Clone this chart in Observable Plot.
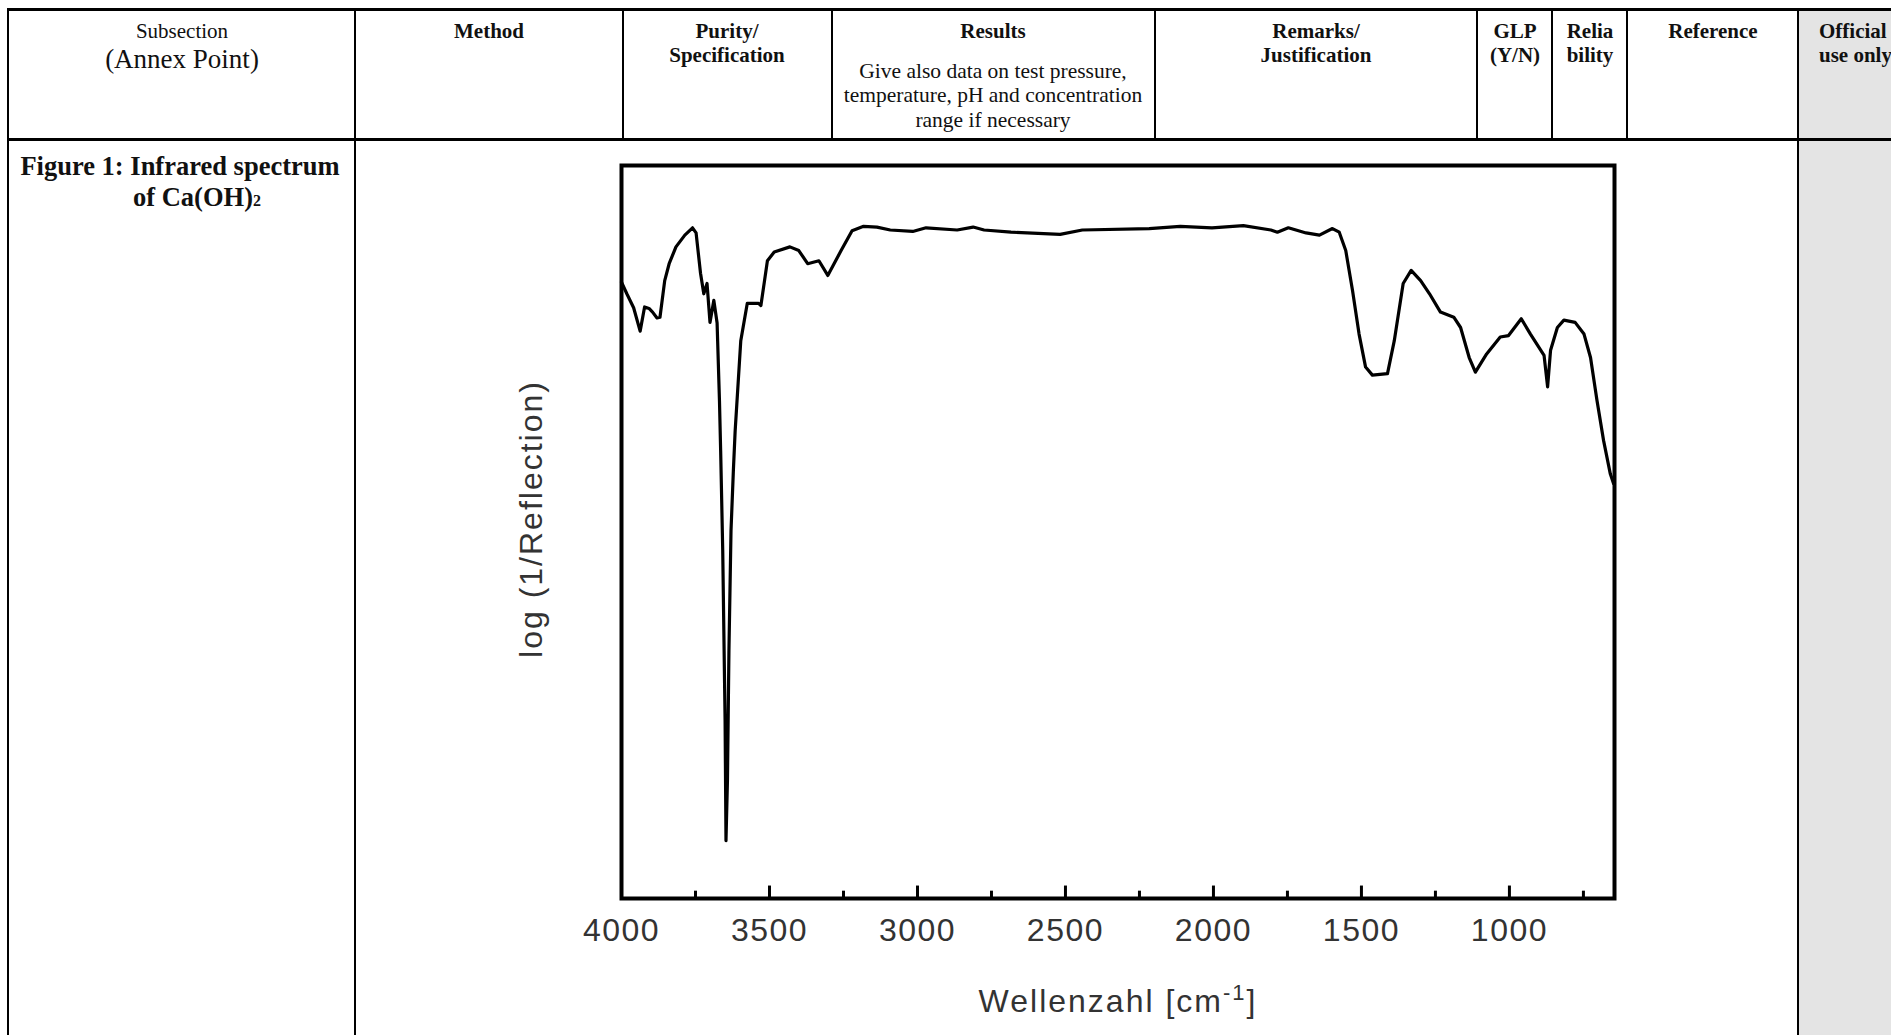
<!DOCTYPE html>
<html>
<head>
<meta charset="utf-8">
<script src="https://cdn.jsdelivr.net/npm/d3@7"></script>
<script src="https://cdn.jsdelivr.net/npm/@observablehq/plot@0.6"></script>
<style>
  html, body { margin: 0; padding: 0; background: #fff; }
  #page { position: relative; width: 1891px; height: 1035px; overflow: hidden; background: #fff; }
  .hl { position: absolute; background: #000; }
  .t { position: absolute; font-family: "Liberation Serif", "Times New Roman", serif; color: #111; white-space: nowrap; line-height: 1; }
  .c { transform: translate(-50%, -50%); }
  .l { transform: translate(0, -50%); }
  .b { font-weight: bold; }
  #plot { position: absolute; left: 360px; top: 145px; }
  #plot svg .ls text { letter-spacing: 2px; }
  #plot svg .ls1 text { letter-spacing: 1.5px; }
</style>
</head>
<body>
<div id="page">
  <div style="position:absolute;left:1798px;top:9px;width:93px;height:1026px;background:#e4e4e4"></div>
  <div class="hl" style="left:7px;top:8px;width:1884px;height:3px"></div>
  <div class="hl" style="left:7px;top:138px;width:1884px;height:3px"></div>
  <div class="hl" style="left:7px;top:8px;width:2px;height:1027px"></div>
  <div class="hl" style="left:354px;top:8px;width:2px;height:1027px"></div>
  <div class="hl" style="left:622px;top:8px;width:2px;height:132px"></div>
  <div class="hl" style="left:831px;top:8px;width:2px;height:132px"></div>
  <div class="hl" style="left:1154px;top:8px;width:2px;height:132px"></div>
  <div class="hl" style="left:1476px;top:8px;width:2px;height:132px"></div>
  <div class="hl" style="left:1551px;top:8px;width:2px;height:132px"></div>
  <div class="hl" style="left:1626px;top:8px;width:2px;height:132px"></div>
  <div class="hl" style="left:1797px;top:8px;width:2px;height:1027px"></div>

  <div class="t c" style="left:182px;top:31px;font-size:21px">Subsection</div>
  <div class="t c" style="left:182px;top:59px;font-size:27px">(Annex Point)</div>
  <div class="t c b" style="left:489px;top:31px;font-size:21px">Method</div>
  <div class="t c b" style="left:727px;top:31px;font-size:21px">Purity/</div>
  <div class="t c b" style="left:727px;top:55px;font-size:21px">Specification</div>
  <div class="t c b" style="left:993px;top:31px;font-size:21px">Results</div>
  <div class="t c" style="left:993px;top:72px;font-size:21.5px">Give also data on test pressure,</div>
  <div class="t c" style="left:993px;top:96px;font-size:21.5px">temperature, pH and concentration</div>
  <div class="t c" style="left:993px;top:121px;font-size:21.5px">range if necessary</div>
  <div class="t c b" style="left:1316px;top:31px;font-size:21px">Remarks/</div>
  <div class="t c b" style="left:1316px;top:55px;font-size:21px">Justification</div>
  <div class="t c b" style="left:1515px;top:31px;font-size:21px">GLP</div>
  <div class="t c b" style="left:1515px;top:55px;font-size:21px">(Y/N)</div>
  <div class="t c b" style="left:1590px;top:31px;font-size:21px">Relia</div>
  <div class="t c b" style="left:1590px;top:55px;font-size:21px">bility</div>
  <div class="t c b" style="left:1713px;top:31px;font-size:21px">Reference</div>
  <div class="t l b" style="left:1819px;top:31px;font-size:21px">Official</div>
  <div class="t l b" style="left:1819px;top:55px;font-size:21px">use only</div>

  <div class="t c b" style="left:180px;top:166px;font-size:26.5px">Figure 1: Infrared spectrum</div>
  <div class="t c b" style="left:197px;top:197px;font-size:26.5px">of Ca(OH)<span style="font-size:16px">2</span></div>

  <div id="plot"></div>
</div>
<script>
// Wavenumber (cm-1) and log(1/Reflection) (relative units, 0-100)
const wavenumber = [4000, 3982, 3959, 3937, 3922, 3907, 3895, 3880, 3870, 3854, 3839, 3816, 3786, 3760, 3748, 3733, 3722, 3711, 3701, 3688, 3677, 3669, 3665, 3658, 3650, 3647, 3642, 3637, 3630, 3622, 3616, 3597, 3575, 3537, 3529, 3507, 3484, 3431, 3401, 3371, 3333, 3303, 3258, 3221, 3182, 3137, 3092, 3016, 2971, 2866, 2812, 2775, 2684, 2518, 2443, 2217, 2112, 2005, 1899, 1806, 1784, 1747, 1687, 1642, 1598, 1575, 1553, 1530, 1508, 1486, 1463, 1412, 1389, 1359, 1332, 1300, 1270, 1233, 1188, 1165, 1136, 1115, 1077, 1031, 1003, 960, 929, 883, 871, 861, 838, 816, 778, 748, 726, 704, 682, 659, 648];
const signal = [84.1, 82.5, 80.6, 77.4, 80.7, 80.5, 80.0, 79.2, 79.3, 84.3, 86.6, 88.9, 90.5, 91.5, 90.8, 85.3, 82.5, 83.9, 78.6, 81.6, 78.5, 67.9, 61.1, 47.5, 24.3, 7.9, 16.1, 33.8, 50.2, 58.4, 63.8, 76.1, 81.2, 81.2, 80.9, 87.0, 88.2, 88.9, 88.4, 86.6, 87.0, 85.0, 88.4, 91.1, 91.7, 91.6, 91.2, 91.0, 91.5, 91.2, 91.6, 91.2, 90.9, 90.6, 91.2, 91.4, 91.7, 91.5, 91.8, 91.2, 90.9, 91.5, 90.8, 90.5, 91.4, 90.9, 88.4, 82.9, 77.0, 72.5, 71.4, 71.6, 76.1, 83.9, 85.7, 84.3, 82.5, 80.0, 79.3, 77.9, 73.8, 71.8, 74.3, 76.6, 76.8, 79.1, 77.0, 74.1, 69.8, 74.8, 77.9, 78.9, 78.6, 77.0, 73.8, 67.9, 62.5, 57.9, 56.6];
const majorTicks = [4000, 3500, 3000, 2500, 2000, 1500, 1000];
const minorTicks = [3750, 3250, 2750, 2250, 1750, 1250, 750];
const tickLabels = ["4000", "3500", "3000", "2500", "2000", "1500", "1000"];
const xTitle = "Wellenzahl [cm-1]";
const yTitle = "log (1/Reflection)";

const spectrum = wavenumber.map((w, i) => ({wn: w, v: signal[i]}));
const sans = "Liberation Sans, Arial, Helvetica, sans-serif";

const chart = Plot.plot({
  width: 1300,
  height: 890,
  marginLeft: 261,
  marginRight: 46,
  marginTop: 20,
  marginBottom: 137,
  style: {background: "transparent", overflow: "visible"},
  x: {domain: [4000, 645], axis: null},
  y: {domain: [0, 100], axis: null},
  marks: [
    Plot.ruleX(majorTicks, {x: d => d, y1: 0, y2: 1.7, stroke: "black", strokeWidth: 3}),
    Plot.ruleX(minorTicks, {x: d => d, y1: 0, y2: 1.0, stroke: "black", strokeWidth: 3}),
    Plot.line(spectrum, {x: "wn", y: "v", stroke: "black", strokeWidth: 3.2, strokeLinejoin: "round"}),
    Plot.frame({stroke: "black", strokeWidth: 4}),
    Plot.text(majorTicks, {x: d => d, text: (d, i) => tickLabels[i], frameAnchor: "bottom", dy: 42, fontSize: 32, fill: "#333", fontFamily: sans, className: "ls1"}),
    Plot.text([xTitle], {frameAnchor: "bottom", dy: 113, fontSize: 32, fill: "#333", fontFamily: sans, className: "ls"}),
    Plot.text([yTitle], {frameAnchor: "left", textAnchor: "middle", dx: -90, dy: -13, rotate: -90, fontSize: 32, fill: "#333", fontFamily: sans, className: "ls"})
  ]
});
document.getElementById("plot").appendChild(chart);

// render the exponent of the x title as a superscript
d3.select(chart).selectAll("text").filter(function() { return this.textContent === xTitle; })
  .each(function() {
    const t = d3.select(this);
    t.text(null);
    t.append("tspan").text("Wellenzahl [cm");
    t.append("tspan").attr("font-size", 22).attr("baseline-shift", "super").text("-1");
    t.append("tspan").text("]");
  });
</script>
</body>
</html>
